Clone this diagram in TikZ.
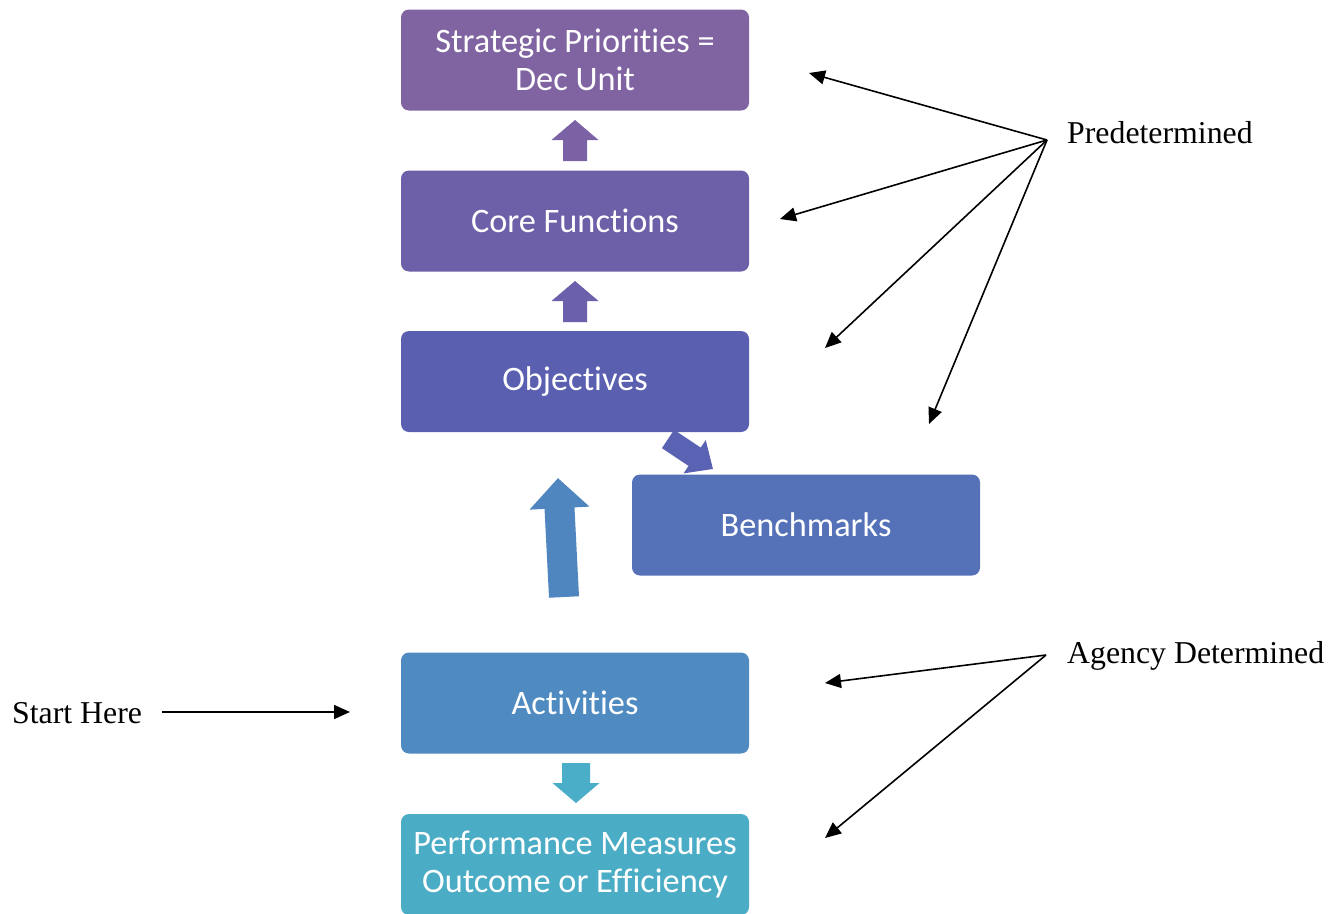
\documentclass[tikz,border=0pt]{standalone}
\usepackage{fontspec}
\setmainfont{Liberation Serif}
\newfontfamily\boxfont[Ligatures={NoCommon}]{Carlito}
\usetikzlibrary{arrows.meta}
\definecolor{cStrat}{HTML}{8064A2}
\definecolor{cCore}{HTML}{6E60A8}
\definecolor{cObj}{HTML}{5A5FB0}
\definecolor{cBench}{HTML}{5572B9}
\definecolor{cAct}{HTML}{4F8BC0}
\definecolor{cPerf}{HTML}{4BACC6}
\definecolor{aOne}{HTML}{7B62A5}
\definecolor{aTwo}{HTML}{6A60AB}
\definecolor{aDiag}{HTML}{5A63B3}
\definecolor{aBig}{HTML}{4F86BF}
\definecolor{aDown}{HTML}{4BAEC8}
\newcommand{\blkarrow}[8]{%
  \begin{scope}[shift={(#2,#3)},rotate=#4]
    \fill[#1] (0,{-#6/2}) -- ({#5-#8},{-#6/2}) -- ({#5-#8},{-#7/2}) -- (#5,0)
      -- ({#5-#8},{#7/2}) -- ({#5-#8},{#6/2}) -- (0,{#6/2}) -- cycle;
  \end{scope}}
\tikzset{
  boxnode/.style={rounded corners=8pt, minimum width=348pt, minimum height=101pt,
    inner sep=0pt, outer sep=0pt, text=white, align=center,
    font=\boxfont\fontsize{34.3}{38}\selectfont},
  lbl/.style={inner sep=0pt, font=\fontsize{31.8}{36}\selectfont},
  conn/.style={line width=1.6pt, -{Triangle[length=16pt,width=14pt]}}
}
\begin{document}
\begin{tikzpicture}[x=1pt,y=-1pt]
\useasboundingbox (0,0) rectangle (1337,913);
% boxes
\node[boxnode, fill=cStrat] (strat) at (575,60) {Strategic Priorities =\\Dec Unit};
\node[boxnode, fill=cCore] (core) at (575,221) {Core Functions};
\node[boxnode, fill=cObj] (obj) at (575,381.5) {Objectives};
\node[boxnode, fill=cBench] (bench) at (806,525) {Benchmarks};
\node[boxnode, fill=cAct] (act) at (575,703) {Activities};
\node[boxnode, fill=cPerf] (perf) at (575,864.5) {Performance Measures\\Outcome or Efficiency};
% block arrows
\blkarrow{aOne}{575}{161}{90}{41}{24}{47}{20}
\blkarrow{aTwo}{575}{322}{90}{41}{24}{47}{20}
\blkarrow{aBig}{564}{597}{92.9}{119}{30}{60}{30}
\blkarrow{aDown}{576}{763}{-90}{40}{28}{47}{20}
\blkarrow{aDiag}{668}{439}{-33.7}{54}{22}{40}{22}
% labels
\node[lbl, anchor=base west] (pre) at (1067,143) {Predetermined};
\node[lbl, anchor=base west] (agency) at (1067,663) {Agency Determined};
\node[lbl, anchor=base west] (start) at (12,723) {Start Here};
% connector ends
\coordinate (psrc) at (1047,140);
\coordinate (pt1) at (809,73);
\coordinate (pt2) at (780,219);
\coordinate (pt3) at (825,348);
\coordinate (pt4) at (929,424);
\coordinate (asrc) at (1046,655);
\coordinate (at1) at (825,683);
\coordinate (at2) at (825,838);
\coordinate (st) at (350,712);
\draw[conn] (psrc) -- (pt1);
\draw[conn] (psrc) -- (pt2);
\draw[conn] (psrc) -- (pt3);
\draw[conn] (psrc) -- (pt4);
\draw[conn] (asrc) -- (at1);
\draw[conn] (asrc) -- (at2);
\draw[conn] ([xshift=20pt]start.east |- st) -- (st);
\end{tikzpicture}
\end{document}
